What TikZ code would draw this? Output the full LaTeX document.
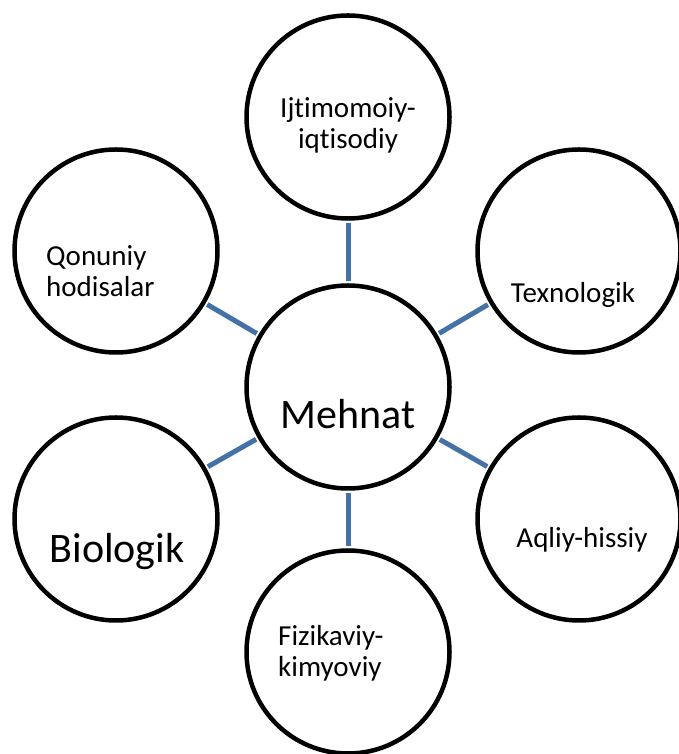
\documentclass[tikz,border=0pt]{standalone}
\usepackage{fontspec}
\setmainfont[Ligatures=NoCommon]{Carlito}
\usepackage{tikz}
\usepackage{xcolor}
\definecolor{linkblue}{RGB}{68,113,166}

\begin{document}
\begin{tikzpicture}[x=1pt, y=1pt,
    bubble/.style={circle, draw, line width=4.5pt, minimum size=203pt, fill=white},
    small/.style={font=\fontsize{29}{31}\selectfont, inner sep=0pt},
    big/.style={font=\fontsize{42}{46}\selectfont, inner sep=0pt},
    link/.style={draw=linkblue, line width=5pt, shorten >=2pt, shorten <=2pt}]
                \useasboundingbox (0,0) rectangle (678,754);

                \node[bubble] (mehnat) at (348,367) {};
                \node[bubble] (ijt) at (348,637) {};
                \node[bubble] (qon) at (116,503) {};
                \node[bubble] (tex) at (579,503) {};
                \node[bubble] (bio) at (116,235) {};
                \node[bubble] (aql) at (579,235) {};
                \node[bubble] (fiz) at (348,102) {};

                \node[big, anchor=base] (mehnatT) at (348,325) {Mehnat};
                \node[small, anchor=base, align=center] (ijtT) at (348,605) {Ijtimomoiy-\\iqtisodiy};
                \node[small, anchor=base west, align=left] (qonT) at (46,457) {Qonuniy\\hodisalar};
                \node[small, anchor=base] (texT) at (573,451) {Texnologik};
                \node[big, anchor=base] (bioT) at (117,191) {Biologik};
                \node[small, anchor=base] (aqlT) at (582,206) {Aqliy-hissiy};
                \node[small, anchor=base west, align=left] (fizT) at (278,77) {Fizikaviy-\\kimyoviy};

                \draw[link] (mehnat) -- (ijt);
                \draw[link] (mehnat) -- (qon);
                \draw[link] (mehnat) -- (tex);
                \draw[link] (mehnat) -- (bio);
                \draw[link] (mehnat) -- (aql);
                \draw[link] (mehnat) -- (fiz);
            \end{tikzpicture}
\end{document}
